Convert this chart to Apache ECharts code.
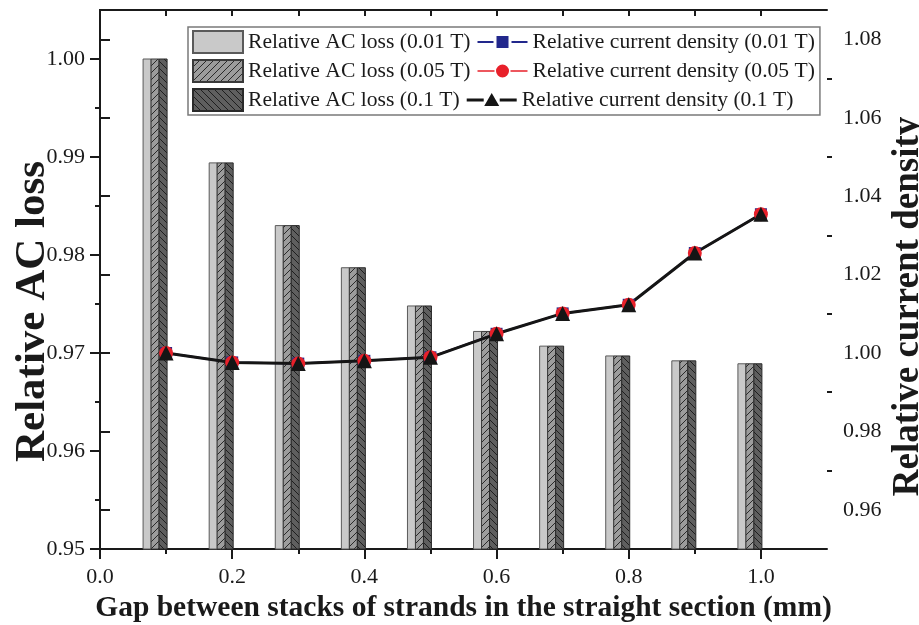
<!DOCTYPE html>
<html>
<head>
<meta charset="utf-8">
<script src="https://cdn.jsdelivr.net/npm/echarts@6/dist/echarts.min.js"></script>
<style>
  html, body { margin: 0; padding: 0; background: #fff; }
  #chart { width: 919px; height: 625px; }
</style>
</head>
<body>
<div id="chart"></div>
<script>
// Gap between stacks (mm)
const gaps = [0.1, 0.2, 0.3, 0.4, 0.5, 0.6, 0.7, 0.8, 0.9, 1.0];

// Relative AC loss for each background field
const acLoss001 = [1.000, 0.9894, 0.9830, 0.9787, 0.9748, 0.9722, 0.9707, 0.9697, 0.9692, 0.9689];
const acLoss005 = [1.000, 0.9894, 0.9830, 0.9787, 0.9748, 0.9722, 0.9707, 0.9697, 0.9692, 0.9689];
const acLoss01  = [1.000, 0.9894, 0.9830, 0.9787, 0.9748, 0.9722, 0.9707, 0.9697, 0.9692, 0.9689];

// Relative current density for each background field
const density001 = [1.0000, 0.9976, 0.9973, 0.9980, 0.9989, 1.0049, 1.0101, 1.0123, 1.0255, 1.0354];
const density005 = [1.0000, 0.9976, 0.9973, 0.9980, 0.9989, 1.0049, 1.0101, 1.0123, 1.0255, 1.0354];
const density01  = [1.0000, 0.9976, 0.9973, 0.9980, 0.9989, 1.0049, 1.0101, 1.0123, 1.0255, 1.0354];

// Tick values
const xTicks = [0, 0.2, 0.4, 0.6, 0.8, 1.0];
const xMinorTicks = [0.1, 0.3, 0.5, 0.7, 0.9];
const lossTicks = [0.95, 0.96, 0.97, 0.98, 0.99, 1.00];
const lossMinorTicks = [0.955, 0.965, 0.975, 0.985, 0.995];
const densityTicks = [0.96, 0.98, 1.00, 1.02, 1.04, 1.06, 1.08];
const densityMinorTicks = [0.97, 0.99, 1.01, 1.03, 1.05, 1.07];

const seriesNames = {
  loss001: 'Relative AC loss (0.01 T)',
  loss005: 'Relative AC loss (0.05 T)',
  loss01: 'Relative AC loss (0.1 T)',
  dens001: 'Relative current density (0.01 T)',
  dens005: 'Relative current density (0.05 T)',
  dens01: 'Relative current density (0.1 T)'
};

const FONT = '"Liberation Serif", "Times New Roman", serif';
const INK = '#1a1a1a';
const X_MIN = 0, X_MAX = 1.1;
const LOSS_MIN = 0.95, LOSS_MAX = 1.005;
const DENS_MIN = 0.95, DENS_MAX = 1.0875;

// Hatched fills for the bars
function hatch(bg, line, dir) {
  const s = 7;
  const c = document.createElement('canvas');
  c.width = s; c.height = s;
  const g = c.getContext('2d');
  g.fillStyle = bg;
  g.fillRect(0, 0, s, s);
  g.strokeStyle = line;
  g.lineWidth = 1;
  g.beginPath();
  if (dir > 0) {
    g.moveTo(-1, s + 1); g.lineTo(s + 1, -1);
    g.moveTo(-1, 1); g.lineTo(1, -1);
    g.moveTo(s - 1, s + 1); g.lineTo(s + 1, s - 1);
  } else {
    g.moveTo(-1, -1); g.lineTo(s + 1, s + 1);
    g.moveTo(s - 1, -1); g.lineTo(s + 1, 1);
    g.moveTo(-1, s - 1); g.lineTo(1, s + 1);
  }
  g.stroke();
  return { image: c, repeat: 'repeat' };
}

const BAR_W = 8;
// Three bars per gap value, side by side, with the group ending at the tick
function barRenderer(slot) {
  return function (params, api) {
    const x = api.value(0);
    const v = api.value(1);
    const top = api.coord([x, v]);
    const base = api.coord([x, LOSS_MIN]);
    const left = top[0] + 1 - (3 - slot) * BAR_W;
    return {
      type: 'rect',
      shape: { x: left, y: top[1], width: BAR_W, height: base[1] - top[1] },
      style: api.style()
    };
  };
}

function pairs(values) {
  return gaps.map((g, i) => [g, values[i]]);
}

function barSeries(name, values, slot, color, border) {
  return {
    type: 'custom',
    name: name,
    xAxisIndex: 0,
    yAxisIndex: 0,
    renderItem: barRenderer(slot),
    encode: { x: 0, y: 1 },
    itemStyle: { color: color, borderColor: border, borderWidth: 1 },
    data: pairs(values),
    z: 2
  };
}

function lineSeries(name, values, color, width, symbol, size) {
  return {
    type: 'line',
    name: name,
    xAxisIndex: 0,
    yAxisIndex: 2,
    data: pairs(values),
    symbol: symbol,
    symbolSize: size,
    showAllSymbol: true,
    lineStyle: { color: color, width: width },
    itemStyle: { color: color, borderWidth: 0 },
    z: 5
  };
}

// Legend glyphs: line with a marker in the middle
const EXT = 'M0 3 L0 3 Z M50 19 L50 19 Z ';
const iconSquare = 'path://' + EXT + 'M0 10 L16 10 L16 12 L0 12 Z M34 10 L50 10 L50 12 L34 12 Z M19 5 L31 5 L31 17 L19 17 Z';
const iconCircle = 'path://' + EXT + 'M0 10.3 L17 10.3 L17 11.7 L0 11.7 Z M33 10.3 L50 10.3 L50 11.7 L33 11.7 Z M18.5 11 A6.5 6.5 0 1 1 31.5 11 A6.5 6.5 0 1 1 18.5 11 Z';
const iconTriangle = 'path://' + EXT + 'M0 9.5 L17 9.5 L17 12.5 L0 12.5 Z M33 9.5 L50 9.5 L50 12.5 L33 12.5 Z M25 4 L32.5 17 L17.5 17 Z';

const lightFill = '#c9c9c9';
const midFill = hatch('#9c9c9c', '#2a2a2a', 1);
const darkFill = hatch('#5f5f5f', '#1e1e1e', -1);

const axisLineStyle = { color: INK, width: 2 };
const tickLabel = { fontFamily: FONT, fontSize: 22, color: INK };

const chart = echarts.init(document.getElementById('chart'), null, { renderer: 'canvas' });

chart.setOption({
  backgroundColor: '#ffffff',
  animation: false,
  grid: { left: 100, right: 92, top: 10, bottom: 76, outerBoundsMode: 'none' },
  legend: {
    left: 188,
    top: 27,
    width: 630,
    orient: 'horizontal',
    itemWidth: 50,
    itemHeight: 22,
    itemGap: 5,
    padding: [3, 3, 3, 4],
    borderColor: '#7a7a7a',
    borderWidth: 1.5,
    backgroundColor: '#ffffff',
    textStyle: { fontFamily: FONT, fontSize: 21.6, lineHeight: 22, color: INK, padding: [0, 2, 0, 0] },
    selectedMode: false,
    data: [
      { name: seriesNames.loss001, icon: 'rect' },
      { name: seriesNames.dens001, icon: iconSquare, itemStyle: { color: '#22288c', borderWidth: 0 } },
      { name: seriesNames.loss005, icon: 'rect' },
      { name: seriesNames.dens005, icon: iconCircle, itemStyle: { color: '#e8202a', borderWidth: 0 } },
      { name: seriesNames.loss01, icon: 'rect' },
      { name: seriesNames.dens01, icon: iconTriangle, itemStyle: { color: '#151515', borderWidth: 0 } }
    ]
  },
  xAxis: [
    {
      type: 'value', position: 'bottom', min: X_MIN, max: X_MAX,
      name: 'Gap between stacks of strands in the straight section (mm)',
      nameLocation: 'middle', nameGap: 44, nameMoveOverlap: false,
      nameTextStyle: { fontFamily: FONT, fontSize: 29.5, fontWeight: 'bold', color: INK },
      axisLine: { show: true, lineStyle: axisLineStyle },
      axisTick: { show: true, inside: false, length: 10, lineStyle: { color: INK, width: 2 }, customValues: xTicks },
      axisLabel: Object.assign({ margin: 17, customValues: xTicks, formatter: v => v.toFixed(1) }, tickLabel),
      splitLine: { show: false }
    },
    {
      type: 'value', position: 'bottom', min: X_MIN, max: X_MAX,
      axisLine: { show: false },
      axisTick: { show: true, inside: false, length: 5, lineStyle: { color: INK, width: 2 }, customValues: xMinorTicks },
      axisLabel: { show: false },
      splitLine: { show: false }
    },
    {
      type: 'value', position: 'top', min: X_MIN, max: X_MAX,
      axisLine: { show: true, lineStyle: axisLineStyle },
      axisTick: { show: true, inside: true, length: 6, lineStyle: { color: INK, width: 2 }, customValues: xTicks.concat(xMinorTicks) },
      axisLabel: { show: false },
      splitLine: { show: false }
    }
  ],
  yAxis: [
    {
      type: 'value', position: 'left', min: LOSS_MIN, max: LOSS_MAX,
      name: 'Relative AC loss',
      nameLocation: 'middle', nameGap: 46, nameRotate: 90, nameMoveOverlap: false,
      nameTextStyle: { fontFamily: FONT, fontSize: 43, fontWeight: 'bold', color: INK, padding: [0, 64, 0, 0] },
      axisLine: { show: true, lineStyle: axisLineStyle },
      axisTick: { show: true, inside: false, length: 10, lineStyle: { color: INK, width: 2 }, customValues: lossTicks },
      axisLabel: Object.assign({ margin: 15, customValues: lossTicks, formatter: v => v.toFixed(2) }, tickLabel),
      splitLine: { show: false }
    },
    {
      type: 'value', position: 'left', min: LOSS_MIN, max: LOSS_MAX,
      axisLine: { show: false },
      axisTick: { show: true, inside: false, length: 5, lineStyle: { color: INK, width: 2 }, customValues: lossMinorTicks },
      axisLabel: { show: false },
      splitLine: { show: false }
    },
    {
      type: 'value', position: 'right', min: DENS_MIN, max: DENS_MAX,
      name: 'Relative current density',
      nameLocation: 'middle', nameGap: 63, nameRotate: 90, nameMoveOverlap: false,
      nameTextStyle: { fontFamily: FONT, fontSize: 37, fontWeight: 'bold', color: INK, padding: [0, 54, 0, 0] },
      axisLine: { show: true, lineStyle: axisLineStyle },
      axisTick: { show: true, inside: false, length: 10, lineStyle: { color: INK, width: 2 }, customValues: densityTicks },
      axisLabel: Object.assign({ margin: 16, customValues: densityTicks, formatter: v => v.toFixed(2) }, tickLabel),
      splitLine: { show: false }
    },
    {
      type: 'value', position: 'right', min: DENS_MIN, max: DENS_MAX,
      axisLine: { show: false },
      axisTick: { show: true, inside: false, length: 5, lineStyle: { color: INK, width: 2 }, customValues: densityMinorTicks },
      axisLabel: { show: false },
      splitLine: { show: false }
    }
  ],
  series: [
    barSeries(seriesNames.loss001, acLoss001, 0, lightFill, '#5a5a5a'),
    barSeries(seriesNames.loss005, acLoss005, 1, midFill, '#3a3a3a'),
    barSeries(seriesNames.loss01, acLoss01, 2, darkFill, '#2a2a2a'),
    lineSeries(seriesNames.dens001, density001, '#22288c', 2, 'rect', 12),
    lineSeries(seriesNames.dens005, density005, '#e8202a', 1.5, 'circle', 14),
    lineSeries(seriesNames.dens01, density01, '#151515', 3, 'triangle', 15)
  ]
});
</script>
</body>
</html>
